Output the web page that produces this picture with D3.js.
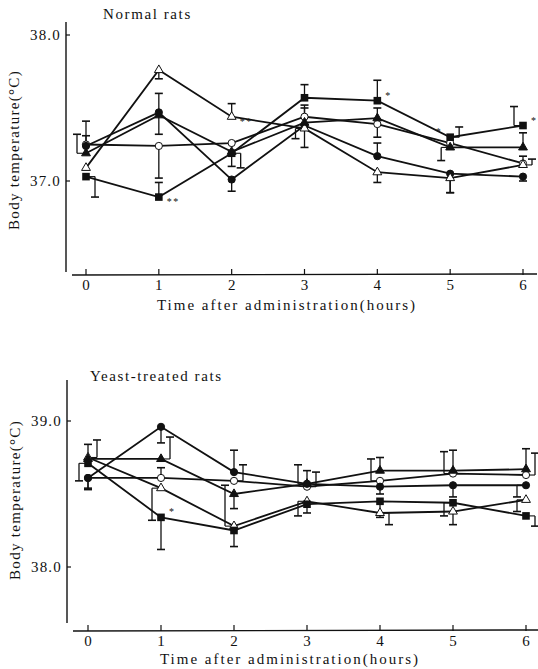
<!DOCTYPE html>
<html lang="en">
<head>
<meta charset="utf-8">
<title>Body temperature</title>
<script src="https://cdn.jsdelivr.net/npm/d3@7"></script>
<style>
  body { margin: 0; background: #fff; }
  text { font-family: "Liberation Serif", "DejaVu Serif", serif; fill: #111; }
</style>
</head>
<body>
<script>

//****************************************************************************//
// Data

var hours = [0, 1, 2, 3, 4, 5, 6];
var hourLabels = ["0", "1", "2", "3", "4", "5", "6"];

// Normal rats
var normalTicks = [37.0, 38.0];
var normalOpenCircle   = [37.25, 37.24, 37.26, 37.44, 37.39, 37.26, 37.12];
var normalFilledCircle = [37.24, 37.47, 37.01, 37.38, 37.17, 37.05, 37.03];
var normalOpenTri      = [37.09, 37.76, 37.44, 37.36, 37.06, 37.02, 37.11];
var normalFilledTri    = [37.19, 37.45, 37.20, 37.40, 37.43, 37.23, 37.23];
var normalSquare       = [37.03, 36.89, 37.19, 37.57, 37.55, 37.30, 37.38];

// signed error (+ drawn up, - drawn down)
var normalOpenCircleErr   = [0.16, -0.22, 0.00, 0.08, -0.09, 0.00, 0.05];
var normalFilledCircleErr = [0.07, 0.13, -0.08, -0.15, 0.09, -0.13, -0.03];
var normalOpenTriErr      = [0.00, -0.06, 0.09, -0.07, -0.07, -0.10, 0.04];
var normalFilledTriErr    = [0.13, -0.13, -0.10, 0.10, 0.07, -0.09, 0.10];
var normalSquareErr       = [-0.14, 0.10, -0.10, 0.09, 0.14, 0.07, 0.13];
// bracket side of the error bar: -1 left, 1 right, 0 centred
var normalOpenCircleSide   = [0, 0, 0, 0, 0, 0, 0];
var normalFilledCircleSide = [0, 0, 0, 0, 0, 0, 0];
var normalOpenTriSide      = [0, 0, 0, -1, 0, 0, 1];
var normalFilledTriSide    = [-1, 0, 0, 0, 0, -1, 0];
var normalSquareSide       = [1, 0, 1, 0, 0, 1, -1];
var normalStars = [["**", 1, 36.89, 1], ["**", 2, 37.44, 1], ["*", 4, 37.55, 1], ["*", 5, 37.30, -1], ["*", 6, 37.38, 1]];

// Yeast-treated rats
var yeastTicks = [38.0, 39.0];
var yeastOpenCircle   = [38.61, 38.61, 38.59, 38.55, 38.59, 38.64, 38.63];
var yeastFilledCircle = [38.61, 38.96, 38.65, 38.57, 38.55, 38.56, 38.56];
var yeastOpenTri      = [38.75, 38.54, 38.28, 38.45, 38.37, 38.38, 38.46];
var yeastFilledTri    = [38.74, 38.74, 38.50, 38.57, 38.66, 38.66, 38.67];
var yeastSquare       = [38.71, 38.34, 38.25, 38.43, 38.45, 38.44, 38.35];

var yeastOpenCircleErr   = [-0.07, 0.07, 0.11, 0.10, 0.15, 0.15, 0.15];
var yeastFilledCircleErr = [-0.08, -0.11, 0.15, 0.09, -0.05, -0.08, -0.08];
var yeastOpenTriErr      = [0.12, -0.22, 0.28, -0.10, -0.08, -0.09, -0.08];
var yeastFilledTriErr    = [0.10, 0.15, -0.10, 0.13, 0.09, 0.14, 0.14];
var yeastSquareErr       = [-0.12, -0.22, -0.11, -0.06, -0.11, -0.09, -0.07];
var yeastOpenCircleSide   = [0, 0, 1, 1, -1, -1, 1];
var yeastFilledCircleSide = [0, 0, 0, 0, 0, 0, -1];
var yeastOpenTriSide      = [1, -1, -1, -1, 1, 0, -1];
var yeastFilledTriSide    = [0, 1, 0, -1, 0, 0, 0];
var yeastSquareSide       = [-1, 0, 0, 0, 0, -1, 1];
var yeastStars = [["*", 1, 38.34, 1]];

//****************************************************************************//
// Canvas

var width = 538, height = 669;

var svg = d3.select("body").append("svg")
    .attr("width", width)
    .attr("height", height);

function makeSeries(vals, errs, sides, shape) {
    return { shape: shape, points: hours.map(function(h, i) {
        return { t: h, v: vals[i], e: errs[i], side: sides[i] };
    }) };
}

var normalSeries = [
    makeSeries(normalOpenCircle, normalOpenCircleErr, normalOpenCircleSide, "openCircle"),
    makeSeries(normalFilledCircle, normalFilledCircleErr, normalFilledCircleSide, "filledCircle"),
    makeSeries(normalOpenTri, normalOpenTriErr, normalOpenTriSide, "openTri"),
    makeSeries(normalFilledTri, normalFilledTriErr, normalFilledTriSide, "filledTri"),
    makeSeries(normalSquare, normalSquareErr, normalSquareSide, "square")
];

var yeastSeries = [
    makeSeries(yeastOpenCircle, yeastOpenCircleErr, yeastOpenCircleSide, "openCircle"),
    makeSeries(yeastFilledCircle, yeastFilledCircleErr, yeastFilledCircleSide, "filledCircle"),
    makeSeries(yeastOpenTri, yeastOpenTriErr, yeastOpenTriSide, "openTri"),
    makeSeries(yeastFilledTri, yeastFilledTriErr, yeastFilledTriSide, "filledTri"),
    makeSeries(yeastSquare, yeastSquareErr, yeastSquareSide, "square")
];

//****************************************************************************//
// Panel drawing

function drawPanel(p) {
    var g = svg.append("g");
    var x = d3.scaleLinear().domain([0, 6]).range([p.x0, p.x1]);
    var y = d3.scaleLinear().domain(p.yDomain).range(p.yRange);

    // y axis line + inward ticks
    g.append("line")
        .attr("x1", p.axisX).attr("x2", p.axisX)
        .attr("y1", p.axisTop).attr("y2", p.axisBottom)
        .attr("stroke", "#111").attr("stroke-width", 1.4);
    p.ticks.forEach(function(t) {
        g.append("line")
            .attr("x1", p.axisX).attr("x2", p.axisX + 4)
            .attr("y1", y(t)).attr("y2", y(t))
            .attr("stroke", "#111").attr("stroke-width", 1.2);
        g.append("text")
            .attr("x", p.axisX - 5).attr("y", y(t) + 5)
            .attr("text-anchor", "end")
            .attr("font-size", 15)
            .attr("letter-spacing", 1.2)
            .text(t.toFixed(1));
    });

    // x axis line + upward ticks
    g.append("line")
        .attr("x1", p.xAxisStart).attr("x2", p.xAxisEnd)
        .attr("y1", p.xAxisY).attr("y2", p.xAxisY - 1)
        .attr("stroke", "#111").attr("stroke-width", 1.4);
    hours.forEach(function(h, i) {
        g.append("line")
            .attr("x1", x(h)).attr("x2", x(h))
            .attr("y1", p.xAxisY).attr("y2", p.xAxisY - 6)
            .attr("stroke", "#111").attr("stroke-width", 1.2);
        g.append("text")
            .attr("x", x(h)).attr("y", p.xAxisY + 15)
            .attr("text-anchor", "middle")
            .attr("font-size", 15)
            .text(hourLabels[i]);
    });

    // titles
    g.append("text")
        .attr("x", p.titleX).attr("y", p.titleY)
        .attr("font-size", 15)
        .attr("letter-spacing", 1.6)
        .text(p.title);
    g.append("text")
        .attr("transform", "translate(" + p.yLabelX + "," + p.yLabelY + ") rotate(-90)")
        .attr("text-anchor", "middle")
        .attr("font-size", 15)
        .attr("letter-spacing", 1.3)
        .text("Body temperature(\u00B0C)");
    g.append("text")
        .attr("x", p.xLabelX).attr("y", p.xLabelY)
        .attr("text-anchor", "middle")
        .attr("font-size", 15)
        .attr("letter-spacing", 2)
        .text("Time after administration(hours)");

    // lines
    var line = d3.line().x(function(d) { return x(d.t); }).y(function(d) { return y(d.v); });
    p.series.forEach(function(s) {
        g.append("path")
            .attr("d", line(s.points))
            .attr("fill", "none")
            .attr("stroke", "#111")
            .attr("stroke-width", 1.8);
    });

    // error bars
    p.series.forEach(function(s) {
        s.points.forEach(function(d) {
            if (d.e === 0) return;
            var cx = x(d.t), cy = y(d.v);
            var bx = cx + d.side * 9;
            var ey = y(d.v + d.e);
            if (d.side !== 0) {
                g.append("line")
                    .attr("x1", cx).attr("x2", bx)
                    .attr("y1", cy).attr("y2", cy)
                    .attr("stroke", "#111").attr("stroke-width", 1.1);
            }
            g.append("line")
                .attr("x1", bx).attr("x2", bx)
                .attr("y1", cy).attr("y2", ey)
                .attr("stroke", "#111").attr("stroke-width", 1.3);
            g.append("line")
                .attr("x1", bx - 4).attr("x2", bx + 4)
                .attr("y1", ey).attr("y2", ey)
                .attr("stroke", "#111").attr("stroke-width", 1.6);
        });
    });

    // markers
    var triUp = d3.symbol().type(d3.symbolTriangle).size(34);
    p.series.forEach(function(s) {
        s.points.forEach(function(d) {
            var cx = x(d.t), cy = y(d.v);
            if (s.shape === "openCircle" || s.shape === "filledCircle") {
                g.append("circle")
                    .attr("cx", cx).attr("cy", cy).attr("r", 3.6)
                    .attr("fill", s.shape === "openCircle" ? "#fff" : "#111")
                    .attr("stroke", "#111").attr("stroke-width", 1);
            } else if (s.shape === "square") {
                g.append("rect")
                    .attr("x", cx - 3.8).attr("y", cy - 3.8)
                    .attr("width", 7.6).attr("height", 7.6)
                    .attr("fill", "#111");
            } else {
                g.append("path")
                    .attr("d", triUp())
                    .attr("transform", "translate(" + cx + "," + cy + ")")
                    .attr("fill", s.shape === "openTri" ? "#fff" : "#111")
                    .attr("stroke", "#111").attr("stroke-width", 1);
            }
        });
    });

    // significance marks
    p.stars.forEach(function(s) {
        g.append("text")
            .attr("x", x(s[1]) + s[3] * 8)
            .attr("y", y(s[2]) + (s[0] === "**" ? 8 : -2))
            .attr("text-anchor", s[3] > 0 ? "start" : "end")
            .attr("font-size", 10)
            .attr("letter-spacing", 1.5)
            .style("fill", "#111")
            .text(s[0]);
    });
}

drawPanel({
    series: normalSeries, stars: normalStars, ticks: normalTicks,
    yDomain: [37, 38], yRange: [181, 35],
    x0: 86, x1: 523,
    axisX: 66, axisTop: 22, axisBottom: 272,
    xAxisStart: 72, xAxisEnd: 537, xAxisY: 275,
    title: "Normal rats", titleX: 103, titleY: 19,
    yLabelX: 19, yLabelY: 150,
    xLabelX: 287, xLabelY: 310
});

drawPanel({
    series: yeastSeries, stars: yeastStars, ticks: yeastTicks,
    yDomain: [38, 39], yRange: [567, 421],
    x0: 88, x1: 526,
    axisX: 67, axisTop: 380, axisBottom: 623,
    xAxisStart: 73, xAxisEnd: 538, xAxisY: 631,
    title: "Yeast-treated rats", titleX: 90, titleY: 381,
    yLabelX: 20, yLabelY: 500,
    xLabelX: 290, xLabelY: 664
});

</script>
</body>
</html>
